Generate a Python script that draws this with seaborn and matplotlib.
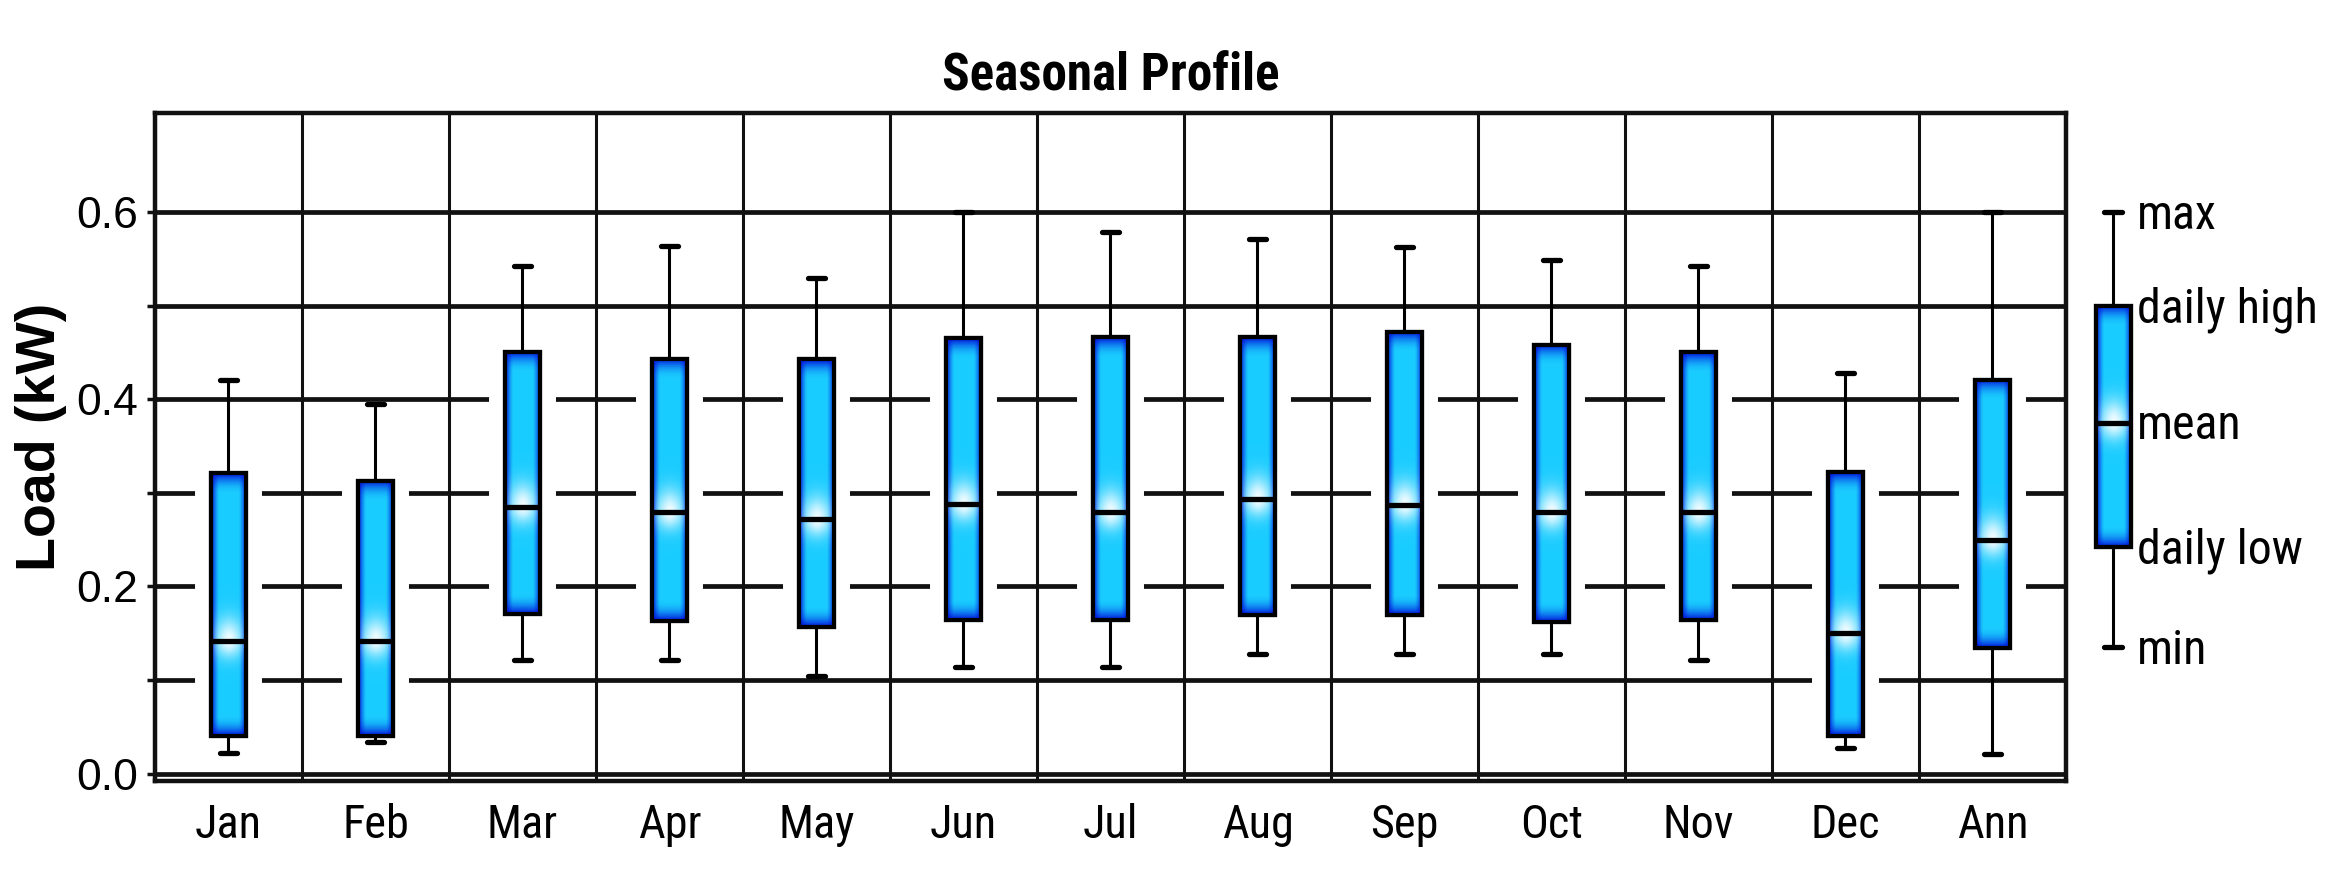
import numpy as np
import pandas as pd
import matplotlib
matplotlib.use("Agg")
import matplotlib.pyplot as plt
import matplotlib.patheffects as pe
from matplotlib.patches import PathPatch
from matplotlib import font_manager
from matplotlib.font_manager import FontProperties
import seaborn as sns

# ---------------- data ----------------
months = ["Jan", "Feb", "Mar", "Apr", "May", "Jun", "Jul", "Aug", "Sep", "Oct", "Nov", "Dec", "Ann"]
load_min = [0.022, 0.034, 0.121, 0.121, 0.104, 0.114, 0.114, 0.128, 0.128, 0.128, 0.121, 0.027, 0.021]
daily_low = [0.040, 0.040, 0.170, 0.163, 0.157, 0.164, 0.164, 0.169, 0.169, 0.162, 0.164, 0.040, 0.134]
load_mean = [0.142, 0.142, 0.285, 0.279, 0.272, 0.288, 0.279, 0.293, 0.287, 0.279, 0.279, 0.150, 0.250]
daily_high = [0.321, 0.313, 0.450, 0.443, 0.443, 0.465, 0.466, 0.466, 0.472, 0.458, 0.450, 0.322, 0.421]
load_max = [0.421, 0.395, 0.542, 0.564, 0.529, 0.600, 0.579, 0.571, 0.563, 0.549, 0.542, 0.428, 0.600]

legend_labels = ["min", "daily low", "mean", "daily high", "max"]
legend_values = [0.135, 0.242, 0.375, 0.500, 0.600]

ytick_values = [0.0, 0.1, 0.2, 0.3, 0.4, 0.5, 0.6]
ytick_labels = ["0.0", "", "0.2", "", "0.4", "", "0.6"]

title_text = "Seasonal Profile"
ylabel_text = "Load (kW)"

# ---------------- fonts ----------------
sns.set_theme(style="white")
plt.rcParams["font.family"] = ["Liberation Sans", "DejaVu Sans"]
for k in ["text.color", "axes.labelcolor", "xtick.color", "ytick.color"]:
    plt.rcParams[k] = "black"


def find_condensed(bold):
    pref = ["Liberation Sans Narrow", "Arial Narrow", "Roboto Condensed", "Open Sans Condensed",
            "Noto Sans Condensed", "Noto Sans", "Open Sans", "Roboto"]
    cands = []
    for f in font_manager.fontManager.ttflist:
        st = str(f.stretch).lower()
        is_cond = ("condensed" in st or "narrow" in f.name.lower() or "condensed" in f.name.lower()
                   or "condensed" in f.fname.lower() or "narrow" in f.fname.lower())
        if "extra" in f.fname.lower() or "semi" in f.fname.lower() or "ultra" in f.fname.lower():
            continue
        if not is_cond or f.style != "normal":
            continue
        w = f.weight if isinstance(f.weight, int) else (700 if "bold" in str(f.weight) else 400)
        if bold and (w < 600 or w > 750):
            continue
        if not bold and (w > 500 or w < 350):
            continue
        rank = pref.index(f.name) if f.name in pref else len(pref)
        cands.append((rank, f.fname))
    cands.sort()
    return cands[0][1] if cands else None


cond_reg = find_condensed(False)
cond_bold = find_condensed(True)


def fp(size, bold=False):
    path = cond_bold if bold else cond_reg
    if path is not None:
        return FontProperties(fname=path, size=size * 1.15)
    return FontProperties(family=["Liberation Sans", "DejaVu Sans"], size=size,
                          weight="bold" if bold else "normal")


# ---------------- styling constants ----------------
BOX_W = 0.24
BOX_LW = 3.0
HALO = 10.0
CYAN = np.array([0.10, 0.80, 1.00])
BLUE = np.array([0.00, 0.05, 0.85])

box_kws = dict(
    whis=(0, 100), width=BOX_W, showfliers=False, color="#1ec8ff",
    linecolor="black", linewidth=BOX_LW,
    medianprops=dict(color="black", linewidth=3.8),
    whiskerprops=dict(color="black", linewidth=2.2),
    capprops=dict(color="black", linewidth=3.8),
)


def gradient(x0, x1, y0, y1, ym):
    H, W = 400, 90
    u = np.linspace(-1, 1, W)
    y = np.linspace(y0, y1, H)
    U, Y = np.meshgrid(u, y)
    eh = np.clip((np.abs(U) - 0.55) / 0.45, 0, 1) ** 1.3
    dv = np.minimum(Y - y0, y1 - Y)
    ev = np.clip(1 - dv / 0.022, 0, 1) ** 2
    e = 1 - (1 - eh) * (1 - ev)
    rgb = CYAN * (1 - e)[..., None] + BLUE * e[..., None]
    d = Y - ym
    sig = np.where(d > 0, 0.024, 0.018)
    g = 0.95 * np.exp(-(d / sig) ** 2) * np.clip(1 - np.abs(U) ** 1.6, 0, 1)
    rgb = rgb * (1 - g[..., None]) + g[..., None]
    return rgb


def style_boxes(axis):
    cont = axis.containers[-1]
    for patch, med in zip(list(cont.boxes), list(cont.medians)):
        verts = patch.get_path().vertices
        x0, x1 = verts[:, 0].min(), verts[:, 0].max()
        y0, y1 = verts[:, 1].min(), verts[:, 1].max()
        ym = med.get_ydata()[0]
        patch.set_path_effects([pe.Stroke(linewidth=BOX_LW + 2 * HALO, foreground="white"), pe.Normal()])
        patch.set_zorder(2)
        im = axis.imshow(gradient(x0, x1, y0, y1, ym), extent=(x0, x1, y0, y1), origin="lower",
                         aspect="auto", interpolation="bilinear", zorder=3)
        im.set_clip_path(patch)
        outline = PathPatch(patch.get_path(), transform=patch.get_transform(), facecolor="none",
                            edgecolor="black", linewidth=BOX_LW, zorder=4)
        axis.add_patch(outline)
    for ln in axis.lines:
        ln.set_zorder(5)


# ---------------- figure ----------------
fig = plt.figure(figsize=(23.44, 8.86), dpi=100)
ax = fig.add_axes([0.0661, 0.1185, 0.8153, 0.7542])

df = pd.DataFrame({
    "month": np.repeat(months, 5),
    "load": np.column_stack([load_min, daily_low, load_mean, daily_high, load_max]).ravel(),
})
sns.boxplot(data=df, x="month", y="load", order=months, ax=ax, **box_kws)
style_boxes(ax)

ax.set_xlim(-0.5, len(months) - 0.5)
ax.set_ylim(-0.008, 0.706)
ax.set_axisbelow(True)
ax.set_yticks(ytick_values)
ax.set_yticklabels(ytick_labels, fontproperties=FontProperties(family=["Liberation Sans", "DejaVu Sans"], size=32))
ax.set_xticks(range(len(months)))
ax.set_xticklabels(months, fontproperties=fp(29))
ax.set_xticks(np.arange(len(months) + 1) - 0.5, minor=True)
ax.yaxis.grid(True, which="major", color="#111111", linewidth=3.4)
ax.xaxis.grid(True, which="minor", color="#111111", linewidth=2.2)
ax.xaxis.grid(False, which="major")
ax.tick_params(axis="x", which="major", length=0, pad=16)
ax.tick_params(axis="x", which="minor", length=7, width=2.2, direction="out", color="#111111")
ax.tick_params(axis="y", which="major", length=6, width=2.5, direction="out", color="#111111", pad=6, left=True)
for sp in ax.spines.values():
    sp.set_visible(True)
    sp.set_color("#111111")
    sp.set_linewidth(3.2)

ax.set_xlabel("")
ax.set_ylabel(ylabel_text, fontsize=40, fontweight="bold", family=["Liberation Sans", "DejaVu Sans"])
ax.yaxis.set_label_coords(-0.046, 0.515)
ax.set_title(title_text, fontproperties=fp(32, bold=True), pad=16)

# ---------------- legend key ----------------
lax = fig.add_axes([0.8853, 0.1185, 0.1147, 0.7542], sharey=ax)
sns.boxplot(y=legend_values, ax=lax, **box_kws)
style_boxes(lax)
lax.set_xlim(-0.259, 1.575)
lax.axis("off")
for lab, val in zip(legend_labels, legend_values):
    lax.text(0.16, val - 0.004, lab, ha="left", va="center", fontproperties=fp(30))

fig.savefig("out.png", dpi=100)
